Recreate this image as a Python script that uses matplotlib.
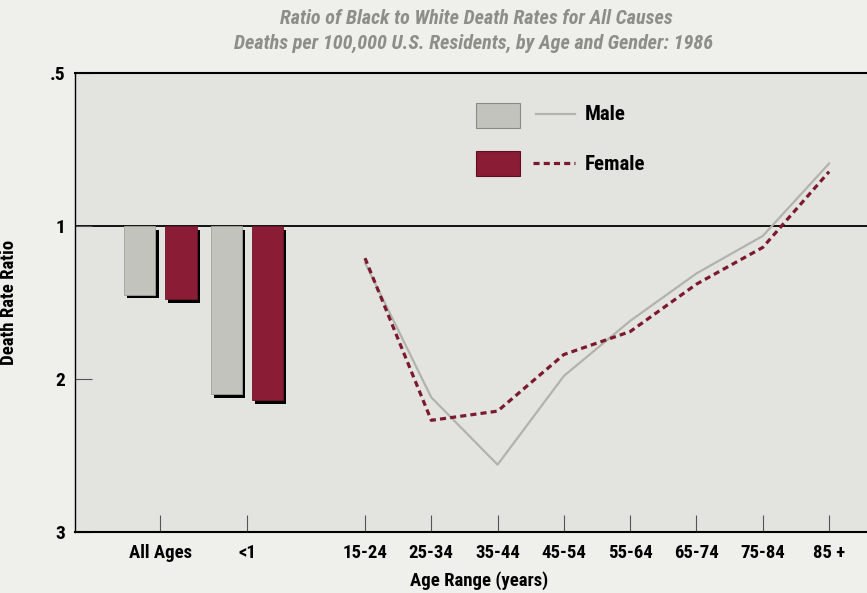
import numpy as np
import matplotlib.pyplot as plt
import matplotlib.patheffects as pe
from matplotlib import font_manager
from matplotlib.patches import Rectangle
from matplotlib.lines import Line2D

# data (death rate ratio, black/white)
bar_labels = ['All Ages', '<1']
bar_male = [1.45, 2.10]
bar_female = [1.48, 2.14]

age_labels = ['15-24', '25-34', '35-44', '45-54', '55-64', '65-74', '75-84', '85 +']
line_male = [1.24, 2.12, 2.56, 1.98, 1.62, 1.31, 1.065, 0.71]
line_female = [1.21, 2.27, 2.21, 1.84, 1.69, 1.38, 1.14, 0.738]

ytick_vals = [0.5, 1, 2, 3]
ytick_labels = ['.5', '1', '2', '3']

# narrowest available family
have = {f.name for f in font_manager.fontManager.ttflist}
fam = 'DejaVu Sans'
for name in ['Liberation Sans Narrow', 'Roboto Condensed', 'Open Sans Condensed', 'Liberation Sans']:
    if name in have:
        fam = name
        break
plt.rcParams['font.family'] = [fam, 'DejaVu Sans']
plt.rcParams['font.stretch'] = 'condensed'

c_male = '#c2c3bd'
c_female = '#8a1c36'
c_male_line = '#b2b3ab'
c_female_line = '#7b1a2c'

# symmetric ratio scale: .5, 1, 2, 3 equally spaced
def fwd(y):
    y = np.asarray(y, dtype=float)
    ys = np.where(y > 0, y, 1e-9)
    return np.where(ys >= 1, ys - 1, 1 - 1 / ys)

def inv(t):
    t = np.asarray(t, dtype=float)
    return np.where(t >= 0, t + 1, 1 / (1 - np.minimum(t, 0)))

fig = plt.figure(figsize=(8.67, 5.93), dpi=100, facecolor='#efefeb')
ax = fig.add_axes([75/867, 61/593, 1 - 75/867, (532 - 73)/593])
ax.set_facecolor('#e3e4e0')
ax.set_yscale('function', functions=(fwd, inv))

xb = np.array([-3.09, -1.78])
xa = np.arange(len(age_labels))
w = 0.48
off = 0.31

shadow = [pe.withSimplePatchShadow(offset=(2.2, -2.6), shadow_rgbFace='black', alpha=1)]
for i in range(len(bar_labels)):
    ax.bar(xb[i] - off, bar_male[i] - 1, bottom=1, width=w, color=c_male,
           edgecolor='#a0a19b', lw=0.6, path_effects=shadow, zorder=2)
    ax.bar(xb[i] + off, bar_female[i] - 1, bottom=1, width=w, color=c_female,
           edgecolor='#6e1429', lw=0.6, path_effects=shadow, zorder=2)

ax.plot(xa, line_male, color=c_male_line, lw=1.6, zorder=3)
ax.plot(xa, line_female, color=c_female_line, lw=2.3, linestyle=(0, (1.9, 1.3)), zorder=4)

ax.axhline(1, color='black', lw=1.3, zorder=1)

ax.set_xlim(-4.374, 7.572)
ax.set_ylim(3, 0.5)

ax.set_xticks(list(xb) + list(xa))
ax.set_xticklabels(bar_labels + age_labels, fontsize=13.5, fontweight='bold')
ax.set_yticks(ytick_vals)
ax.set_yticklabels(ytick_labels, fontsize=14, fontweight='bold')
ax.tick_params(axis='x', direction='in', length=12, width=0.8, color='#555555', pad=9)
ax.tick_params(axis='y', direction='in', length=12, width=0.8, color='#555555', pad=7)
for lab in ax.get_yticklabels():
    lab.set_verticalalignment('center_baseline')

ax.spines['right'].set_visible(False)
ax.spines['top'].set_linewidth(1.5)
ax.spines['bottom'].set_linewidth(1.5)
ax.spines['left'].set_linewidth(1.0)

ax.set_xlabel('Age Range (years)', fontsize=13.5, fontweight='bold')
ax.xaxis.set_label_coords(0.51, -0.086)
ax.set_ylabel('Death Rate Ratio', fontsize=13.5, fontweight='bold')
ax.yaxis.set_label_coords(-0.072, 0.5)

fig.text(0.549, 0.968, 'Ratio of Black to White Death Rates for All Causes', ha='center', va='center',
         fontsize=14.5, fontweight='bold', style='italic', color='#8d8e88')
fig.text(0.546, 0.926, 'Deaths per 100,000 U.S. Residents, by Age and Gender: 1986', ha='center', va='center',
         fontsize=14.5, fontweight='bold', style='italic', color='#8d8e88')

# legend drawn by hand
tr = ax.transAxes
def px(x, y):
    return ((x - 75) / (867 - 75), (532 - y) / (532 - 73))

x0, y0 = px(476, 128)
x1, y1 = px(520, 103)
ax.add_patch(Rectangle((x0, y0), x1 - x0, y1 - y0, transform=tr, facecolor=c_male,
                       edgecolor='#8a8b85', lw=0.8, zorder=5))
x0, y0 = px(476, 176)
x1, y1 = px(520, 151)
ax.add_patch(Rectangle((x0, y0), x1 - x0, y1 - y0, transform=tr, facecolor=c_female,
                       edgecolor='#5e1020', lw=0.8, zorder=5))
a, b = px(536, 114)
c, d = px(575, 114)
ax.add_line(Line2D([a, c], [b, d], transform=tr, color=c_male_line, lw=1.6))
a, b = px(533, 163)
c, d = px(575, 163)
ax.add_line(Line2D([a, c], [b, d], transform=tr, color=c_female_line, lw=2.3, linestyle=(0, (1.9, 1.3))))
a, b = px(585, 115)
ax.text(a, b, 'Male', transform=tr, fontsize=15, fontweight='bold', va='center')
a, b = px(585, 164)
ax.text(a, b, 'Female', transform=tr, fontsize=15, fontweight='bold', va='center')

fig.savefig('out.png', dpi=100, facecolor=fig.get_facecolor())
